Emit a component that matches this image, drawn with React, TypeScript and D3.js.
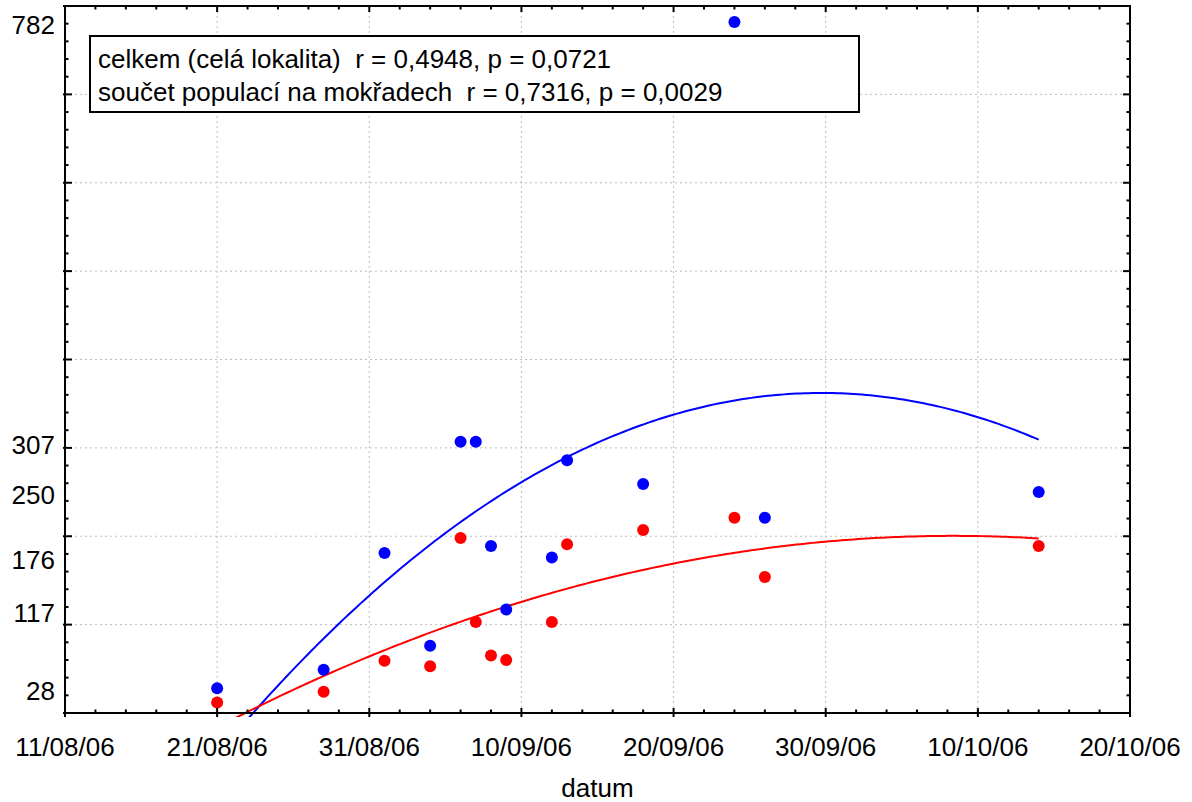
import React from "react";
import * as d3 from "d3";

const dates = ["2006-08-21","2006-08-28","2006-09-01","2006-09-04","2006-09-06","2006-09-07","2006-09-08","2006-09-09","2006-09-12","2006-09-13","2006-09-18","2006-09-24","2006-09-26","2006-10-14"];
const celkem = [28,49,181,76,307,307,189,117,176,286,259,782,221,250];
const mokrady = [12,24,59,53,198,103,65,60,103,191,207,221,154,189];
const yTickLabels = [28,117,176,250,307,782];
const legendLines = [
  "celkem (celá lokalita)  r = 0,4948, p = 0,0721",
  "součet populací na mokřadech  r = 0,7316, p = 0,0029",
];
const xAxisTitle = "datum";

const W = 1192, H = 802;
const L = 65, R = 1130, T = 6, B = 713;
const FONT = "'Liberation Sans', Arial, Helvetica, sans-serif";
const FS = 26;

const parse = (s: string) => { const [y, m, d] = s.split("-").map(Number); return new Date(Date.UTC(y, m - 1, d)); };

function quadFit(xs: number[], ys: number[]) {
  const n = xs.length;
  const mx = d3.mean(xs) as number;
  const t = xs.map(x => x - mx);
  let S2 = 0, S3 = 0, S4 = 0, Sy = 0, Sty = 0, St2y = 0;
  t.forEach((ti, i) => {
    S2 += ti * ti; S3 += ti ** 3; S4 += ti ** 4;
    Sy += ys[i]; Sty += ti * ys[i]; St2y += ti * ti * ys[i];
  });
  const c = (St2y - S2 * Sy / n - S3 * Sty / S2) / (S4 - S2 * S2 / n - S3 * S3 / S2);
  const a = (Sy - S2 * c) / n;
  const b = (Sty - S3 * c) / S2;
  return (x: number) => { const tt = x - mx; return a + b * tt + c * tt * tt; };
}

export default function App() {
  const start = parse("2006-08-11"), end = parse("2006-10-20");
  const x = d3.scaleUtc().domain([start, end]).range([L, R]);
  const y = d3.scaleLinear().domain([0, 800]).range([B, T]);
  const stop = d3.utcDay.offset(end, 1);
  const majorX = d3.utcDay.range(start, stop, 10);
  const xs = d3.utcDay.range(start, stop, 2);
  const minorX = xs.filter((_, i) => i % 5 !== 0);
  const majorY = d3.range(0, 801, 100);
  const minorY = d3.range(0, 801, 20).filter(v => v % 100 !== 0);
  const gridX = majorX.slice(1, -1);
  const gridY = majorY.slice(1, -1);
  const fmt = d3.utcFormat("%d/%m/%y");

  const dNum = dates.map(s => parse(s).getTime() / 864e5);
  const series = [
    { vals: celkem, color: "#0000ff" },
    { vals: mokrady, color: "#ff0000" },
  ];
  const x0 = d3.min(dNum) as number, x1 = d3.max(dNum) as number;
  const samples = d3.range(0, 201).map(i => x0 + (x1 - x0) * i / 200);

  return (
    <svg width={W} height={H} style={{ position: "absolute", left: 0, top: 0, background: "#fff" }} fontFamily={FONT}>
      <defs>
        <clipPath id="plotclip"><rect x={L} y={T} width={R - L} height={B - T + 4} /></clipPath>
      </defs>
      <rect x={0} y={0} width={W} height={H} fill="#fff" />
      {gridX.map((d, i) => (
        <line key={"gx" + i} x1={x(d)} x2={x(d)} y1={T} y2={B} stroke="#bdbdbd" strokeWidth={1} strokeDasharray="2,3" />
      ))}
      {gridY.map((v, i) => (
        <line key={"gy" + i} x1={L} x2={R} y1={y(v)} y2={y(v)} stroke="#bdbdbd" strokeWidth={1} strokeDasharray="2,3" />
      ))}
      <g clipPath="url(#plotclip)">
        {series.map((s, si) => {
          const f = quadFit(dNum, s.vals);
          const line = d3.line<number>().x(d => x(new Date(d * 864e5))).y(d => y(f(d)));
          return <path key={"c" + si} d={line(samples) || ""} fill="none" stroke={s.color} strokeWidth={2} />;
        })}
      </g>
      {[series[1], series[0]].map((s, si) => (
        <g key={"p" + si}>
          {s.vals.map((v, i) => (
            <circle key={i} cx={x(parse(dates[i]))} cy={y(v)} r={6} fill={s.color} />
          ))}
        </g>
      ))}
      <rect x={90} y={36} width={769} height={76} fill="#fff" stroke="#000" strokeWidth={2} />
      {legendLines.map((t, i) => (
        <text key={"l" + i} x={98} y={68 + i * 33} fontSize={FS} fill="#000" style={{ whiteSpace: "pre" }}>{t}</text>
      ))}
      {majorX.map((d, i) => (
        <g key={"mx" + i}>
          <line x1={x(d)} x2={x(d)} y1={B + 4} y2={B - 5} stroke="#000" strokeWidth={2} />
          <line x1={x(d)} x2={x(d)} y1={T} y2={T + 6} stroke="#000" strokeWidth={2} />
          <text x={x(d)} y={756} fontSize={FS} textAnchor="middle" fill="#000">{fmt(d)}</text>
        </g>
      ))}
      {minorX.map((d, i) => (
        <g key={"nx" + i}>
          <line x1={x(d)} x2={x(d)} y1={B} y2={B - 3.5} stroke="#000" strokeWidth={2} />
          <line x1={x(d)} x2={x(d)} y1={T} y2={T + 3.5} stroke="#000" strokeWidth={2} />
        </g>
      ))}
      {majorY.map((v, i) => (
        <g key={"my" + i}>
          <line x1={L - 2} x2={L + 7} y1={y(v)} y2={y(v)} stroke="#000" strokeWidth={2} />
          <line x1={R - 7} x2={R} y1={y(v)} y2={y(v)} stroke="#000" strokeWidth={2} />
        </g>
      ))}
      {minorY.map((v, i) => (
        <g key={"ny" + i}>
          <line x1={L} x2={L + 3.5} y1={y(v)} y2={y(v)} stroke="#000" strokeWidth={2} />
          <line x1={R - 3.5} x2={R} y1={y(v)} y2={y(v)} stroke="#000" strokeWidth={2} />
        </g>
      ))}
      {yTickLabels.map((v, i) => (
        <text key={"yl" + i} x={55} y={y(v) + 12} fontSize={FS} textAnchor="end" fill="#000">{v}</text>
      ))}
      <rect x={L} y={T} width={R - L} height={B - T} fill="none" stroke="#000" strokeWidth={2} />
      <text x={(L + R) / 2} y={797} fontSize={FS} textAnchor="middle" fill="#000">{xAxisTitle}</text>
    </svg>
  );
}
